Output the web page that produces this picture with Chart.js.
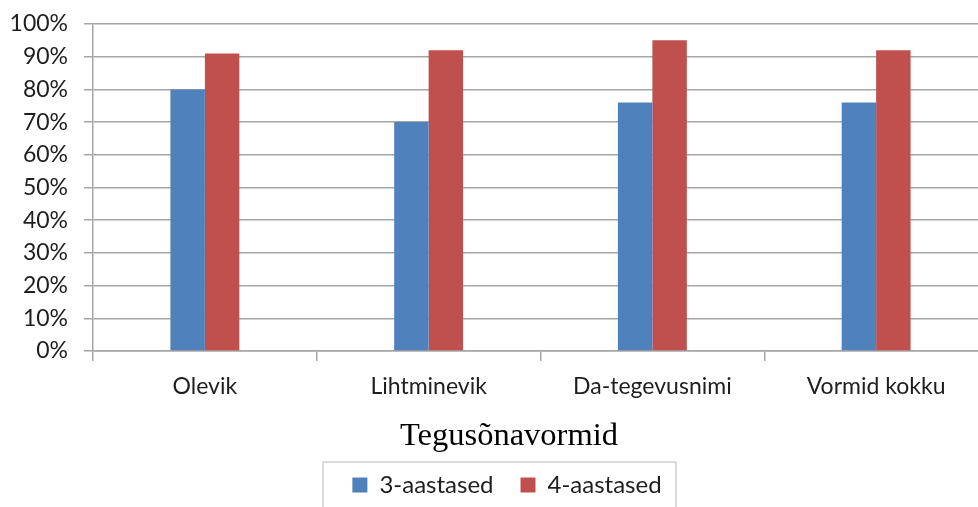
<!DOCTYPE html>
<html>
<head>
<meta charset="utf-8">
<script src="https://cdn.jsdelivr.net/npm/chart.js@4.4.0/dist/chart.umd.min.js"></script>
<style>
  html, body { margin: 0; padding: 0; background: #fff; overflow: hidden; }
  #wrap { width: 990px; height: 507px; }
</style>
</head>
<body>
<div id="wrap"><canvas id="chart" width="990" height="507"></canvas></div>
<script>
// data
const categories = ["Olevik", "Lihtminevik", "Da-tegevusnimi", "Vormid kokku"]
const threeYear = [80, 70, 76, 76]
const fourYear = [91, 92, 95, 92]
const seriesNames = ["3-aastased", "4-aastased"]
const axisTitle = "Tegusõnavormid"

const gridGray = "#A6A6A6"
const textColor = "#1E1E1E"

// nudges legend + title a bit right and draws the thin box round the legend
const legendBox = {
    id: "legendBox",
    afterLayout(chart) {
        const lg = chart.legend
        lg.left += 13
        lg.right += 13
        const tb = chart.titleBlock
        tb.left += 15
        tb.right += 15
    },
    afterDraw(chart) {
        const lg = chart.legend
        const mid = (lg.left + lg.right) / 2
        const ctx = chart.ctx
        ctx.save()
        ctx.strokeStyle = "#D0D0D0"
        ctx.lineWidth = 1.5
        ctx.strokeRect(mid - 184, 462, 353, 80)
        ctx.restore()
    }
}

new Chart(document.getElementById("chart"), {
    type: "bar",
    data: {
        labels: categories,
        datasets: [
            { label: seriesNames[0], data: threeYear, backgroundColor: "#4F81BD" },
            { label: seriesNames[1], data: fourYear, backgroundColor: "#C0504D" },
        ],
    },
    options: {
        responsive: false,
        animation: false,
        categoryPercentage: 0.308,
        barPercentage: 1,
        layout: { padding: { top: 24, left: 0, right: 2, bottom: 0 } },
        plugins: {
            tooltip: { enabled: false },
            title: {
                display: true,
                text: axisTitle,
                position: "bottom",
                weight: 500,
                color: "#000",
                padding: { top: 0, bottom: -9.5 },
                font: { family: "Liberation Serif", size: 32.5, weight: "normal" },
            },
            legend: {
                position: "bottom",
                labels: {
                    boxWidth: 15,
                    boxHeight: 15,
                    padding: 27,
                    color: textColor,
                    font: { family: "Lato", size: 24 },
                },
            },
        },
        scales: {
            x: {
                offset: true,
                afterFit: scale => { scale.height = 65.5 },
                grid: {
                    offset: true,
                    drawOnChartArea: false,
                    drawTicks: true,
                    tickLength: 10,
                    color: gridGray,
                    lineWidth: 1.5,
                },
                border: { color: gridGray, width: 1.5 },
                ticks: { color: textColor, padding: 12, font: { family: "Lato", size: 23 } },
            },
            y: {
                min: 0,
                max: 100,
                afterFit: scale => {
                    scale.width = 93
                    scale.paddingTop = 0
                },
                grid: { color: gridGray, lineWidth: 1.5, tickLength: 9 },
                border: { color: gridGray, width: 1.5 },
                ticks: {
                    stepSize: 10,
                    padding: 16,
                    color: textColor,
                    font: { family: "Lato", size: 23 },
                    callback: v => v + "%",
                },
            },
        },
    },
    plugins: [legendBox],
})
</script>
</body>
</html>
